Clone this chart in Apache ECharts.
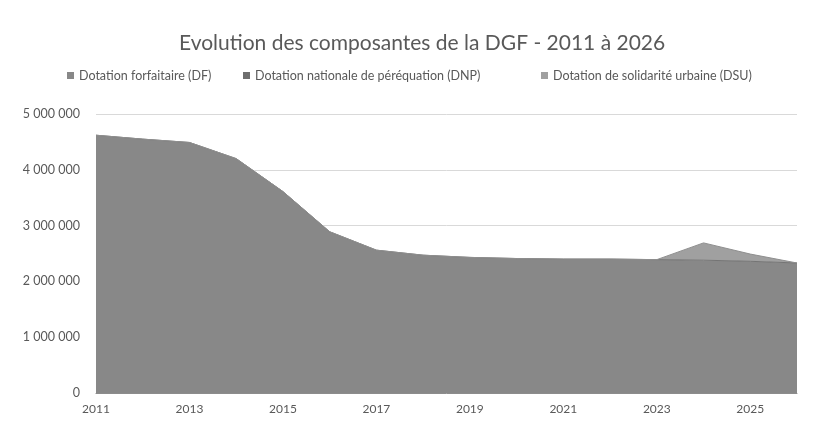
<!DOCTYPE html>
<html>
<head>
<meta charset="utf-8">
<script src="https://cdn.jsdelivr.net/npm/echarts@6/dist/echarts.min.js"></script>
<style>
  html, body { margin: 0; padding: 0; background: #fff; }
  #dgfChart { width: 819px; height: 428px; }
</style>
</head>
<body>
<div id="dgfChart"></div>
<script>
// années
var years = ["2011", "2012", "2013", "2014", "2015", "2016", "2017", "2018",
             "2019", "2020", "2021", "2022", "2023", "2024", "2025", "2026"];

// valeurs (en euros)
var dfValues = [4620000, 4550000, 4490000, 4200000, 3610000, 2890000, 2560000, 2470000,
                2430000, 2410000, 2400000, 2400000, 2390000, 2380000, 2360000, 2330000];
var dnpValues = [0, 0, 0, 0, 0, 0, 0, 0, 0, 0, 0, 0, 0, 0, 0, 0];
var dsuValues = [0, 0, 0, 0, 0, 0, 0, 0, 0, 0, 0, 0, 0, 310000, 130000, 0];

var seriesNames = ["Dotation forfaitaire (DF)",
                   "Dotation nationale de péréquation (DNP)",
                   "Dotation de solidarité urbaine (DSU)"];

var yTicks = [0, 1000000, 2000000, 3000000, 4000000, 5000000];

function echartDgf() {
  var myChart = echarts.init(document.getElementById("dgfChart"));

  var legendText = { fontFamily: "Lato", fontSize: 12.5, color: "#595959" };

  var option = {
    animation: false,
    backgroundColor: "#fff",
    color: ["#888888", "#6e6e6e", "#a0a0a0"],
    title: {
      text: "Evolution des composantes de la DGF - 2011 à 2026",
      left: 174,
      top: 28,
      textStyle: { fontFamily: "Lato", fontSize: 21, fontWeight: "normal", color: "#595959" }
    },
    // une légende par série pour garder les écarts de l'original
    legend: [
      { data: [seriesNames[0]], left: 62, top: 64, itemWidth: 7, itemHeight: 7, itemGap: 4, icon: "rect", textStyle: legendText },
      { data: [seriesNames[1]], left: 238, top: 64, itemWidth: 7, itemHeight: 7, icon: "rect", textStyle: legendText },
      { data: [seriesNames[2]], left: 536, top: 64, itemWidth: 7, itemHeight: 7, icon: "rect", textStyle: legendText }
    ],
    grid: {
      left: 96,
      right: 22,
      top: 114,
      bottom: 35
    },
    xAxis: {
      type: "category",
      boundaryGap: false,
      data: years,
      axisLine: { lineStyle: { color: "#8c8c8c" } },
      axisTick: { show: false },
      axisLabel: {
        interval: 1,
        fontFamily: "Lato",
        fontSize: 12,
        color: "#595959",
        margin: 10
      }
    },
    yAxis: {
      type: "value",
      min: yTicks[0],
      max: yTicks[yTicks.length - 1],
      interval: yTicks[1] - yTicks[0],
      axisLine: { show: false },
      axisTick: { show: false },
      splitLine: { lineStyle: { color: "#d9d9d9" } },
      axisLabel: {
        fontFamily: "Lato",
        fontSize: 12.5,
        color: "#595959",
        margin: 16,
        formatter: function (v) {
          return String(v).replace(/\B(?=(\d{3})+(?!\d))/g, " ");
        }
      }
    },
    series: [
      {
        name: seriesNames[0],
        type: "line",
        stack: "dgf",
        data: dfValues,
        symbol: "none",
        lineStyle: { width: 1, color: "#747474" },
        areaStyle: { color: "#888888", opacity: 1 }
      },
      {
        name: seriesNames[1],
        type: "line",
        stack: "dgf",
        data: dnpValues,
        symbol: "none",
        lineStyle: { width: 0 },
        areaStyle: { color: "#6e6e6e", opacity: 1 }
      },
      {
        name: seriesNames[2],
        type: "line",
        stack: "dgf",
        data: dsuValues,
        symbol: "none",
        lineStyle: { width: 1, color: "#8f8f8f" },
        areaStyle: { color: "#a0a0a0", opacity: 1 }
      }
    ]
  };

  myChart.setOption(option);
}

echartDgf();
</script>
</body>
</html>
